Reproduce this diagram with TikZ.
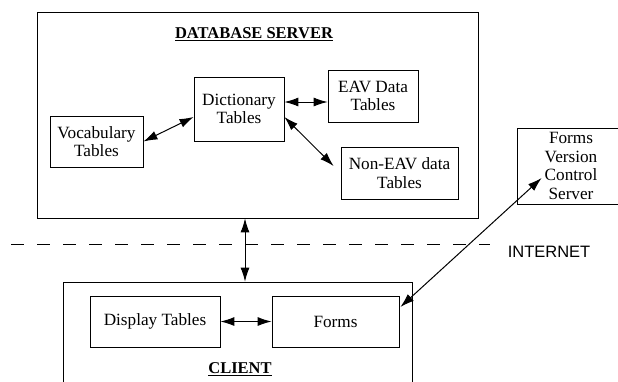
\documentclass[tikz,border=0pt]{standalone}
\usepackage{fontspec}
\setmainfont{Liberation Serif}
\newfontfamily\inetfont{Liberation Sans}
\usetikzlibrary{arrows.meta,calc}
\begin{document}
\begin{tikzpicture}[x=1pt,y=-1pt,
  box/.style={draw, line width=0.8pt, inner sep=0pt, align=center, font=\fontsize{17.2}{18.5}\selectfont},
  lbl/.style={inner sep=0pt, font=\fontsize{16.5}{18.5}\selectfont\bfseries},
  link/.style={line width=1pt, {Latex[length=14pt,width=9pt]}-{Latex[length=14pt,width=9pt]}}]
\clip (0,0) rectangle (618,381);
\fill[white] (0,0) rectangle (618,381);
% database server
\node[box, minimum width=441pt, minimum height=206pt] (db) at (257.5,115) {};
\node[lbl, anchor=base] (dbtitle) at (254,38.5) {\underline{DATABASE SERVER}};
\node[box, minimum width=90pt, minimum height=64pt] (dict) at (239,109) {Dictionary\\Tables};
\node[box, minimum width=93pt, minimum height=51pt] (voc) at (96.5,141.5) {Vocabulary\\Tables};
\node[box, minimum width=90pt, minimum height=52pt] (eav) at (373,96) {EAV Data\\Tables};
\node[box, minimum width=117pt, minimum height=52pt] (noneav) at (399.5,173) {Non-EAV data\\Tables};
% forms version control server
\node[box, minimum width=108pt, minimum height=76pt] (fvcs) at (571,166) {Forms\\Version\\Control\\Server};
% internet line
\coordinate (dl) at (11,244);
\coordinate (dr) at (490,244);
\draw[line width=1pt, dash pattern=on 13pt off 13pt] (dl) -- (dr);
\node[inner sep=0pt, font=\inetfont\fontsize{16.5}{18.5}\selectfont] (inet) at (549,252) {INTERNET};
% client
\node[box, minimum width=349pt, minimum height=118pt] (client) at (237.5,341) {};
\node[box, minimum width=130pt, minimum height=51pt] (disp) at (155,321.5) {Display Tables};
\node[box, minimum width=127pt, minimum height=51pt] (forms) at (335.5,321.5) {Forms};
\node[lbl] (cltitle) at (240,369) {\underline{CLIENT}};
% connectors
\draw[link] (voc.east) -- (dict.west |- 0,117);
\draw[link] (dict.east |- 0,102) -- (eav.west |- 0,102);
\draw[link] (dict.east |- 0,117) -- ($(noneav.west)+(-7,-7)$);
\draw[link] (db.south -| 245,0) -- (client.north -| 245,0);
\draw[link] (disp) -- (forms);
\draw[link] ($(fvcs.west)+(25,12)$) -- ($(forms.east)+(1,-14.5)$);
\end{tikzpicture}
\end{document}
